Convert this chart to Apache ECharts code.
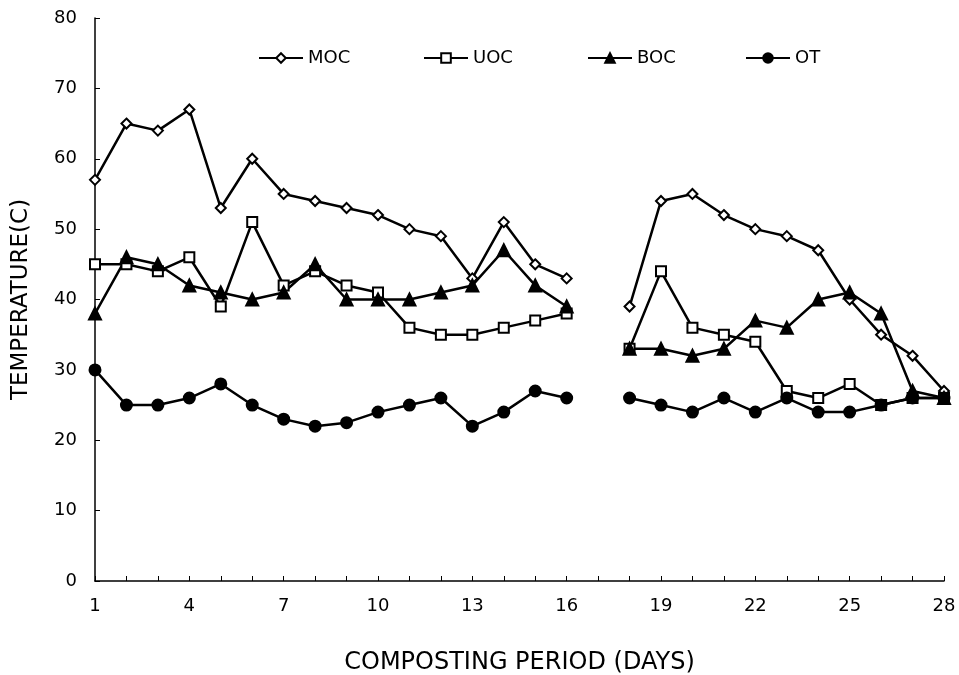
<!DOCTYPE html>
<html><head><meta charset="utf-8">
<script src="https://cdn.jsdelivr.net/npm/echarts@6/dist/echarts.min.js"></script>
<style>html,body{margin:0;padding:0;background:#fff}#c{width:959px;height:675px}</style>
</head><body><div id="c"></div>
<script>
const days = [1,2,3,4,5,6,7,8,9,10,11,12,13,14,15,16,17,18,19,20,21,22,23,24,25,26,27,28];
const MOC = [57,65,64,67,53,60,55,54,53,52,50,49,43,51,45,43,null,39,54,55,52,50,49,47,40,35,32,27];
const UOC = [45,45,44,46,39,51,42,44,42,41,36,35,35,36,37,38,null,33,44,36,35,34,27,26,28,25,26,26];
const BOC = [38,46,45,42,41,40,41,45,40,40,40,41,42,47,42,39,null,33,33,32,33,37,36,40,41,38,27,26];
const OT  = [30,25,25,26,28,25,23,22,22.5,24,25,26,22,24,27,26,null,26,25,24,26,24,26,24,24,25,26,26];
const yTicks = [0,10,20,30,40,50,60,70,80];

const font = '"DejaVu Sans", sans-serif';
const chart = echarts.init(document.getElementById('c'), null, {renderer:'canvas'});
function mk(name, data, symbol, size, fill){
  return {name, type:'line', data, symbol, symbolSize:size, connectNulls:false,
    lineStyle:{color:'#000', width:2.5}, itemStyle:{color:fill, borderColor:'#000', borderWidth:2},
    emphasis:{disabled:true}};
}
function lg(name, left){
  return {data:[name], left, top:44, itemWidth:44, itemHeight:12, itemGap:6,
    textStyle:{fontFamily:font, fontSize:18, color:'#000'}, selectedMode:false};
}
chart.setOption({
  animation:false,
  backgroundColor:'#fff',
  grid:{left:95, right:15, top:18, bottom:94, containLabel:false, outerBoundsMode:'none'},
  legend:[lg('MOC',253), lg('UOC',418), lg('BOC',582), lg('OT',740)],
  xAxis:{type:'category', data:days, boundaryGap:false,
    name:'COMPOSTING PERIOD (DAYS)', nameLocation:'middle', nameGap:70,
    nameTextStyle:{fontFamily:font, fontSize:24, color:'#000'},
    axisLine:{lineStyle:{color:'#000', width:1.5}},
    axisTick:{inside:true, length:5, interval:0, lineStyle:{color:'#000'}},
    axisLabel:{interval:2, margin:16, fontFamily:font, fontSize:18, color:'#000'},
    splitLine:{show:false}},
  yAxis:{type:'value', min:yTicks[0], max:yTicks[yTicks.length-1], interval:10,
    name:'TEMPERATURE(C)', nameLocation:'middle', nameGap:62,
    nameTextStyle:{fontFamily:font, fontSize:23, color:'#000'},
    axisLine:{show:true, lineStyle:{color:'#000', width:1.5}},
    axisTick:{show:true, inside:true, length:5, lineStyle:{color:'#000'}},
    axisLabel:{margin:18, fontFamily:font, fontSize:18, color:'#000'},
    splitLine:{show:false}},
  series:[
    mk('MOC', MOC, 'diamond', 10, '#fff'),
    mk('UOC', UOC, 'rect', 10, '#fff'),
    mk('BOC', BOC, 'triangle', 12, '#000'),
    mk('OT', OT, 'circle', 11, '#000')
  ]
});
</script></body></html>
